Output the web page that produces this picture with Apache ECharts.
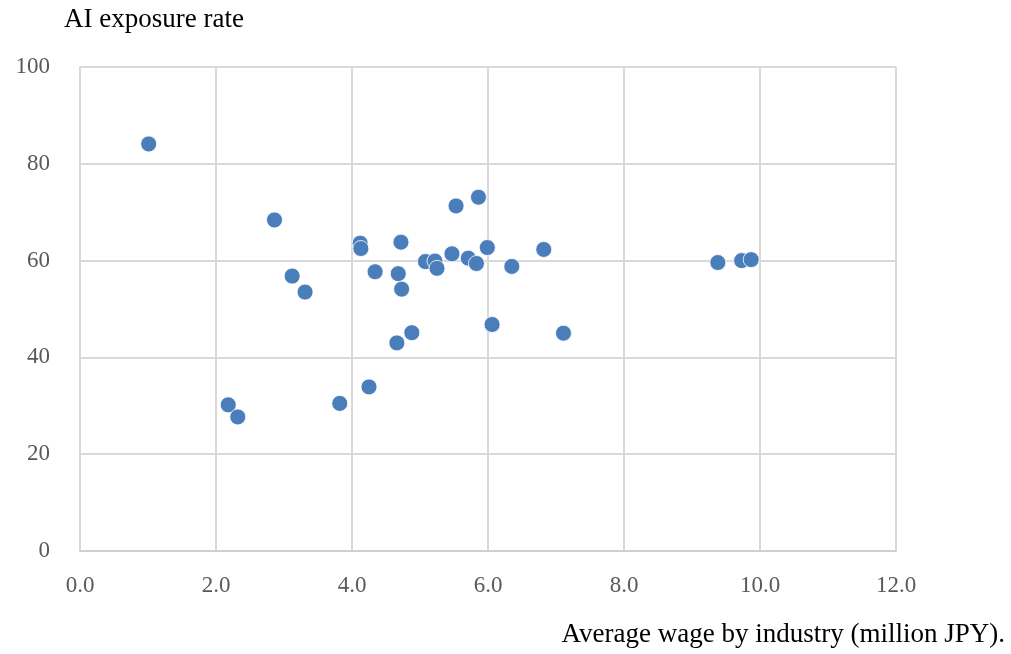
<!DOCTYPE html>
<html>
<head>
<meta charset="utf-8">
<script src="https://cdn.jsdelivr.net/npm/echarts@6/dist/echarts.min.js"></script>
<style>
  html, body { margin: 0; padding: 0; background: #fff; }
  #chart { width: 1011px; height: 654px; }
</style>
</head>
<body>
<div id="chart"></div>
<script>
// Average wage by industry (million JPY) and AI exposure rate (%)
const wage = [1.01, 2.18, 2.32, 2.86, 3.12, 3.31, 3.82, 4.12, 4.13, 4.34,
              4.25, 4.68, 4.72, 4.73, 4.66, 4.88, 5.08, 5.22, 5.25, 5.47,
              5.53, 5.71, 5.83, 5.86, 5.99, 6.06, 6.35, 6.82, 7.11, 9.38,
              9.73, 9.87];
const exposure = [84.1, 30.2, 27.7, 68.4, 56.8, 53.5, 30.5, 63.6, 62.5, 57.7,
                  33.9, 57.3, 63.8, 54.1, 43.0, 45.1, 59.8, 59.9, 58.4, 61.4,
                  71.3, 60.5, 59.4, 73.1, 62.7, 46.8, 58.8, 62.3, 45.0, 59.6,
                  60.0, 60.2];
const xTicks = { min: 0, max: 12, step: 2 };
const yTicks = { min: 0, max: 100, step: 20 };
const yTitle = 'AI exposure rate';
const xTitle = 'Average wage by industry (million JPY).';

const points = wage.map((w, i) => [w, exposure[i]]);
const serif = '"Liberation Serif", "DejaVu Serif", serif';
const gridColor = '#d9d9d9';

const chart = echarts.init(document.getElementById('chart'), null, { renderer: 'canvas' });
chart.setOption({
  animation: false,
  backgroundColor: '#ffffff',
  grid: { left: 80, right: 115, top: 67, bottom: 103 },
  title: [
    { text: yTitle, left: 59, top: 1,
      textStyle: { fontFamily: serif, fontSize: 27, fontWeight: 'normal', color: '#000' } },
    { text: xTitle, right: 1, top: 616,
      textStyle: { fontFamily: serif, fontSize: 27, fontWeight: 'normal', color: '#000' } }
  ],
  xAxis: {
    type: 'value', min: xTicks.min, max: xTicks.max, interval: xTicks.step,
    axisLine: { show: true, onZero: false, lineStyle: { color: '#cfcfcf', width: 2 } },
    axisTick: { show: false },
    splitLine: { show: true, lineStyle: { color: gridColor, width: 2 } },
    axisLabel: { margin: 23, color: '#595959', fontFamily: serif, fontSize: 23,
                 formatter: v => v.toFixed(1) }
  },
  yAxis: {
    type: 'value', min: yTicks.min, max: yTicks.max, interval: yTicks.step,
    axisLine: { show: true, lineStyle: { color: gridColor, width: 2 } },
    axisTick: { show: false },
    splitLine: { show: true, lineStyle: { color: gridColor, width: 2 } },
    axisLabel: { margin: 30, color: '#595959', fontFamily: serif, fontSize: 23,
                 padding: [4, 0, 0, 0] }
  },
  series: [{
    type: 'scatter',
    data: points,
    symbol: 'circle',
    symbolSize: 16,
    itemStyle: { color: '#4a7ebb', borderColor: '#ffffff', borderWidth: 0.8, opacity: 1 }
  }]
});
</script>
</body>
</html>
